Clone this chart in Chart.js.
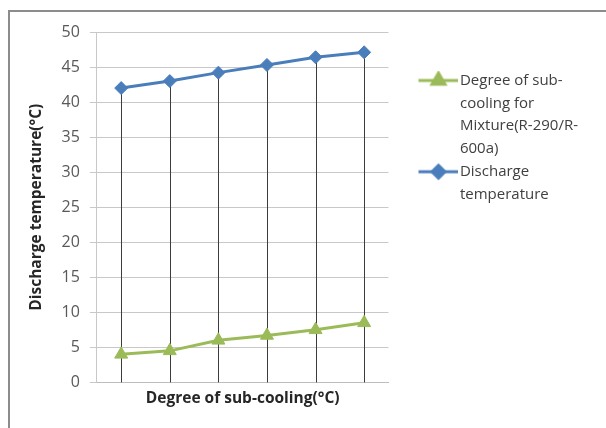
<!DOCTYPE html>
<html>
<head>
<meta charset="utf-8">
<script src="https://cdn.jsdelivr.net/npm/chart.js@4.4.1/dist/chart.umd.min.js"></script>
<style>
  html, body { margin: 0; padding: 0; background: #fff; }
  #wrap { position: relative; width: 606px; height: 428px; overflow: hidden; }
  #frame { position: absolute; left: 8px; top: 10px; width: 640px; height: 460px;
           border-top: 2px solid #8c8c8c; border-left: 2px solid #8c8c8c; }
  #chart { position: absolute; left: 0; top: 0; }
</style>
</head>
<body>
<div id="wrap">
  <div id="frame"></div>
  <canvas id="chart" width="606" height="428"></canvas>
</div>
<script>
// data
const categories = ['1', '2', '3', '4', '5', '6'];
const subCooling = [4, 4.5, 6, 6.7, 7.5, 8.5];
const dischargeTemp = [42, 43, 44.2, 45.3, 46.4, 47.1];
const yTicks = [0, 5, 10, 15, 20, 25, 30, 35, 40, 45, 50];
const subCoolingName = ['Degree of sub-', 'cooling for', 'Mixture(R-290/R-', '600a)'];
const dischargeName = ['Discharge', 'temperature'];

const GREEN = '#9bbb59';
const BLUE = '#4a7ebb';
const FONT = "'Open Sans', 'Liberation Sans', sans-serif";

/**
 * legend icon: a short line with the marker in the middle
 */
function legendIcon(color, style, radius) {
    const c = document.createElement('canvas');
    c.width = 76;
    c.height = 20;
    const ctx = c.getContext('2d');
    ctx.strokeStyle = color;
    ctx.lineWidth = 3;
    ctx.beginPath();
    ctx.moveTo(36, 10);
    ctx.lineTo(76, 10);
    ctx.stroke();
    ctx.fillStyle = color;
    Chart.helpers.drawPoint(ctx, { pointStyle: style, radius: radius, borderWidth: 1, rotation: 0 }, 56, 10);
    return c;
}

// vertical drop lines from the highest point of each category to the axis
const dropLines = {
    id: 'dropLines',
    beforeDatasetsDraw(chart) {
        const { ctx, chartArea, scales } = chart;
        ctx.save();
        ctx.strokeStyle = '#3c3c3c';
        ctx.lineWidth = 1;
        categories.forEach((c, i) => {
            const top = Math.max(subCooling[i], dischargeTemp[i]);
            const x = Math.round(scales.x.getPixelForValue(i)) + 0.5;
            ctx.beginPath();
            ctx.moveTo(x, scales.y.getPixelForValue(top));
            ctx.lineTo(x, chartArea.bottom);
            ctx.stroke();
        });
        ctx.restore();
    }
};

new Chart(document.getElementById('chart'), {
    type: 'line',
    data: {
        labels: categories,
        datasets: [{
            label: subCoolingName.join(' '),
            data: subCooling,
            borderColor: GREEN,
            backgroundColor: GREEN,
            borderWidth: 3,
            pointStyle: 'triangle',
            pointRadius: 7.5,
            pointBorderWidth: 1,
            tension: 0
        }, {
            label: dischargeName.join(' '),
            data: dischargeTemp,
            borderColor: BLUE,
            backgroundColor: BLUE,
            borderWidth: 3,
            pointStyle: 'rectRot',
            pointRadius: 6.5,
            pointBorderWidth: 1,
            tension: 0
        }]
    },
    options: {
        responsive: false,
        animation: false,
        layout: {
            padding: { left: 25, top: 32, right: 18, bottom: 20 }
        },
        plugins: {
            tooltip: { enabled: false },
            legend: {
                position: 'right',
                align: 'start',
                maxWidth: 320,
                title: {
                    display: true,
                    text: '',
                    font: { size: 1, lineHeight: 1 },
                    padding: { top: 40, bottom: 0 }
                },
                labels: {
                    usePointStyle: true,
                    pointStyleWidth: 64,
                    padding: 0,
                    color: '#404040',
                    font: { family: FONT, size: 15, lineHeight: '22.8px' },
                    generateLabels(chart) {
                        const names = [subCoolingName, dischargeName];
                        const icons = [legendIcon(GREEN, 'triangle', 7.5), legendIcon(BLUE, 'rectRot', 6.5)];
                        return chart.data.datasets.map((ds, i) => ({
                            text: names[i],
                            pointStyle: icons[i],
                            fillStyle: ds.borderColor,
                            strokeStyle: ds.borderColor,
                            fontColor: '#404040',
                            lineWidth: 0,
                            hidden: false,
                            datasetIndex: i
                        }));
                    }
                }
            }
        },
        scales: {
            x: {
                offset: true,
                grid: { display: false, drawTicks: false },
                border: { display: true, color: '#bdbdbd' },
                ticks: { display: false },
                title: {
                    display: true,
                    text: 'Degree of sub-cooling(°C)',
                    color: '#262626',
                    font: { family: FONT, size: 15.5, weight: 'bold' },
                    padding: { top: 7, bottom: 0 }
                }
            },
            y: {
                min: 0,
                max: 50,
                afterBuildTicks: axis => { axis.ticks = yTicks.map(v => ({ value: v })); },
                grid: { color: '#c8c8c8', tickLength: 7, tickColor: '#c8c8c8' },
                border: { display: true, color: '#c8c8c8' },
                ticks: {
                    color: '#595959',
                    padding: 10,
                    font: { family: FONT, size: 16 }
                },
                title: {
                    display: true,
                    text: 'Discharge temperature(°C)',
                    color: '#262626',
                    font: { family: FONT, size: 15.5, weight: 'bold' },
                    padding: { top: 2, bottom: 6 }
                }
            }
        }
    },
    plugins: [dropLines]
});
</script>
</body>
</html>
